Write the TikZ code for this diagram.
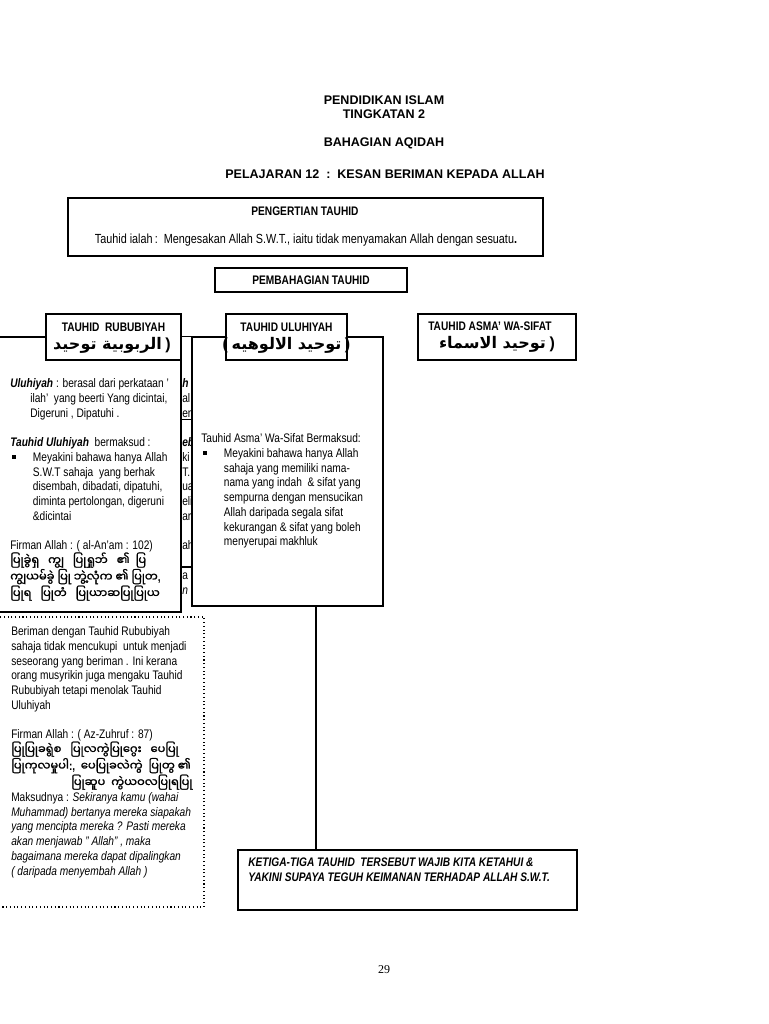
\documentclass[tikz,border=0pt]{standalone}
\usepackage{fontspec}
\setmainfont{Liberation Sans}[FakeStretch=0.82]
\newfontfamily\titlefont{Liberation Sans}
\newfontfamily\pagefont{Liberation Serif}
\newfontfamily\arabicfont[Script=Arabic]{DejaVu Sans}
\newfontfamily\myanfont[Script=Myanmar,FakeBold=1.5]{Noto Sans Myanmar UI}
\TeXXeTstate=1
\usetikzlibrary{fit}

\newcommand{\bul}{\makebox[17pt][l]{\hspace{1.5pt}\rule[2pt]{2.6pt}{2.6pt}}}
\newcommand{\ind}{\hspace*{17pt}}
\newcommand{\hang}{\hspace*{15pt}}
\newcommand{\garble}[1]{{\myanfont\fontsize{8.6}{11.05}\selectfont #1}}
\newcommand{\arab}[1]{{\arabicfont\beginR #1\endR}}
\newcommand{\paren}[1]{{\titlefont #1}}

\tikzset{
  pagebox/.style={draw,line width=0.8pt,inner sep=0pt},
  labelbox/.style={draw,line width=0.8pt,fill=white,inner sep=0pt},
  headtext/.style={inner sep=0pt,font=\titlefont\bfseries\fontsize{9.4}{11}\selectfont},
  boxhead/.style={inner sep=0pt,font=\bfseries\fontsize{9.3}{11}\selectfont},
  bodytext/.style={anchor=north west,align=left,inner sep=0pt,font=\fontsize{9.3}{11.05}\selectfont},
  arabtext/.style={inner sep=0pt,font=\bfseries\fontsize{12}{14}\selectfont},
}

\begin{document}
\begin{tikzpicture}[x=0.75pt,y=-0.75pt]
\useasboundingbox (0,0) rectangle (768,1024);

% headings
\node[headtext] (subject) at (384,100) {PENDIDIKAN ISLAM};
\node[headtext] (form) at (384,114) {TINGKATAN 2};
\node[headtext] (part) at (384,143) {BAHAGIAN AQIDAH};
\node[headtext] (lesson) at (385,174) {PELAJARAN 12\ \ :\ \ KESAN BERIMAN KEPADA ALLAH};

% definition
\node[pagebox,fit={(68,198) (543,256)}] (pengertian) {};
\node[boxhead] (pengertiantitle) at (305,211) {PENGERTIAN TAUHID};
\node[inner sep=0pt,font=\fontsize{9.9}{12}\selectfont] (pengertiantext) at (306,240)
  {Tauhid ialah\,:\ \ Mengesakan Allah S.W.T., iaitu tidak menyamakan Allah dengan sesuatu\textbf{.}};
\node[pagebox,fit={(215,268) (407,292)}] (pembahagian) {};
\node[boxhead] at (pembahagian.center) {PEMBAHAGIAN TAUHID};

% content boxes
\node[pagebox,fit={(-5,337) (181,612)}] (uluhbox) {};
\node[pagebox,fill=white,fit={(192,337) (383,606)}] (asmabox) {};
\draw[line width=0.8pt] (uluhbox.north east) -- (asmabox.north west);
\node[pagebox,dotted,line width=1pt,fill=white,fit={(-5,617) (204,907)}] (dotbox) {};

% text peeping out behind the boxes
\begin{scope}
\clip (181.6,337.5) rectangle (191.4,616);
\node[bodytext] (hiddentext) at (182,378.5) {\textbf{\textit{h}}\\al\\\underline{em}\\[11.05pt]
  \textbf{\textit{ebi}}\\ki\\T. y\\ua\\eli\\ar\\[11.05pt]ah\\[11.05pt]a\\\textit{n}};
\draw[line width=0.8pt] (181,567) -- (192,567);
\end{scope}

\node[bodytext] (uluhtext) at (10,378.5) {%
\textbf{\textit{Uluhiyah}} : berasal dari perkataan '\\
\hang ilah'\ \ yang beerti Yang dicintai,\\
\hang Digeruni , Dipatuhi .\\[11.05pt]
\textbf{\textit{Tauhid Uluhiyah}}\ \ bermaksud :\\
\bul Meyakini bahawa hanya Allah\\
\ind S.W.T sahaja\ \ yang berhak\\
\ind disembah, dibadati, dipatuhi,\\
\ind diminta pertolongan, digeruni\\
\ind \&dicintai\\[11.05pt]
Firman Allah : ( al-An'am : 102)\\
\garble{ပြုခွဲရှ\ \ \ ကျွ\ \ \ ပြုရှုဘ်\ \ \ ၏\ \ ပြ}\\
\garble{ကျွယမ်ခွဲ\ ပြု\ ဘွဲ့လုံက\ ၏\ ပြုတ}\textbf{,}\\
\garble{ပြုရ\ \ \ ပြုတံ\ \ \ ပြုယာဆပြုပြုယ}};

\node[bodytext] (asmatext) at (201,433.5) {%
Tauhid Asma' Wa-Sifat Bermaksud:\\
\bul Meyakini bahawa hanya Allah\\
\ind sahaja yang memiliki nama-\\
\ind nama yang indah\ \ \& sifat yang\\
\ind sempurna dengan mensucikan\\
\ind Allah daripada segala sifat\\
\ind kekurangan \& sifat yang boleh\\
\ind menyerupai makhluk};

\node[bodytext] (dottext) at (11,626.5) {%
Beriman dengan Tauhid Rububiyah\\
sahaja tidak mencukupi\ \ untuk menjadi\\
seseorang yang beriman . Ini kerana\\
orang musyrikin juga mengaku Tauhid\\
Rububiyah tetapi menolak Tauhid\\
Uluhiyah\\[11.05pt]
Firman Allah : ( Az-Zuhruf : 87)\\
\garble{ပြုပြုခရွဲစ\ \ \ ပြုလကွဲပြုဂွေး\ \ \ ပေပြု}\\
\garble{ပြုကုလမှုပါ}\textbf{:,}\ \ \garble{ပေပြုခလဲကွဲ\ \ ပြုတွ\ ၏}\\
\hspace*{45pt}\garble{ပြုဆူပ\ \ ကွဲယဝလပြုရပြု}\\
Maksudnya : \textit{Sekiranya kamu (wahai}\\
\textit{Muhammad) bertanya mereka siapakah}\\
\textit{yang mencipta mereka ? Pasti mereka}\\
\textit{akan menjawab " Allah" , maka}\\
\textit{bagaimana mereka dapat dipalingkan}\\
\textit{( daripada menyembah Allah )}};

% the three kinds
\node[labelbox,fit={(46,314) (181,360)}] (rububiyah) {};
\node[boxhead] at (113.5,327) {TAUHID\ \ RUBUBIYAH};
\node[arabtext] at (112,345) {\arab{الربوبية توحيد}\ \paren{)}};
\node[labelbox,fit={(226,314) (347,360)}] (uluhiyah) {};
\node[boxhead] at (286.5,327) {TAUHID ULUHIYAH};
\node[arabtext] at (286.5,345) {\paren{(}\ \arab{توحيد الالوهيه}\ \paren{)}};
\node[labelbox,fit={(418,314) (576,360)}] (asma) {};
\node[boxhead,anchor=west] at (428,326) {TAUHID ASMA' WA-SIFAT};
\node[arabtext] at (497,344) {\arab{توحيد الاسماء}\ \paren{)}};

% conclusion
\node[draw,line width=2pt,inner sep=0pt,fit={(238,850) (577,910)}] (ketiga) {};
\node[bodytext,font=\bfseries\itshape\fontsize{9.3}{11.6}\selectfont] (ketigatext) at (248,857.5)
  {KETIGA-TIGA TAUHID\ \ TERSEBUT WAJIB KITA KETAHUI \&\\
   YAKINI SUPAYA TEGUH KEIMANAN TERHADAP ALLAH S.W.T.};
\coordinate (drop) at (316,620);
\draw[line width=0.8pt] (asmabox.south -| drop) -- (ketiga.north -| drop);

\node[inner sep=0pt,font=\pagefont\fontsize{9}{11}\selectfont] (pageno) at (384,970) {29};
\end{tikzpicture}
\end{document}
